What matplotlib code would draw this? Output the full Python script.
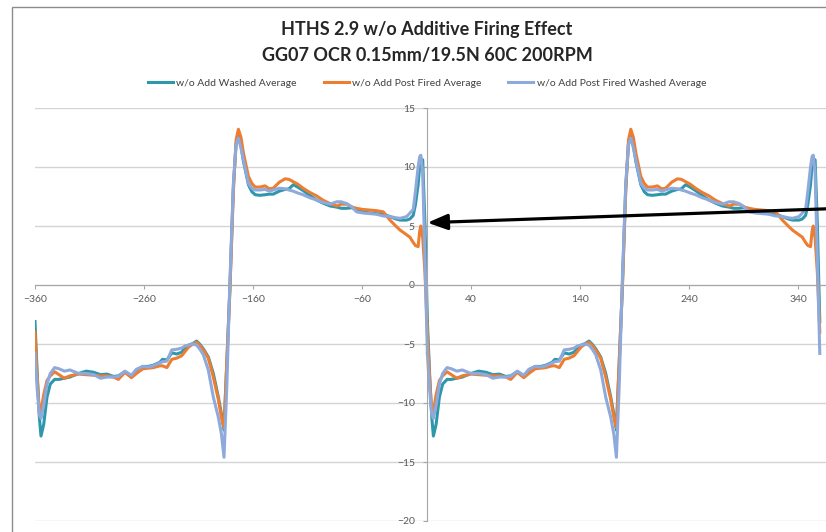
import matplotlib
matplotlib.use("Agg")
import matplotlib.pyplot as plt
import numpy as np
from matplotlib.patches import Rectangle

# one 360 deg crank cycle, drawn twice (-360..0 and 0..360)
angle = [0, 2, 4, 5.5, 8, 11, 14, 18, 22, 27, 32, 40, 47, 54, 60, 66, 72, 76.5,
         82.5, 88.5, 93, 99, 104, 108.5, 114.5, 117, 121, 125.5, 130, 134.5, 138,
         141, 145, 148.3, 151, 154.4, 159, 163.6, 168.2, 171, 173.4, 176, 178.8,
         182, 184.5, 186.6, 189, 191.2, 195.8, 199, 202, 206.4, 211, 215, 218.6,
         224, 229.4, 233, 237, 241, 246, 252, 258.4, 264, 270.6, 276.8, 281, 286,
         291, 295, 301, 307.3, 313, 319.5, 325.7, 331, 335, 341, 344, 347, 349,
         351.5, 353, 354, 355.7, 357.8, 360]

washed = [-3.1, -7.5, -11.2, -12.8, -11.8, -9.5, -8.4, -8.0, -8.0, -7.9, -7.8,
          -7.5, -7.3, -7.4, -7.6, -7.55, -7.75, -7.7, -7.35, -7.8, -7.2, -6.9,
          -6.9, -6.8, -6.55, -6.3, -6.35, -5.75, -5.85, -5.7, -5.3, -5.1, -4.95,
          -4.75, -5.0, -5.4, -6.1, -7.5, -9.5, -10.9, -12.3, -6.5, -0.3, 8.3,
          12.0, 12.7, 11.8, 10.5, 8.5, 7.9, 7.65, 7.6, 7.65, 7.7, 7.7, 7.95, 8.1,
          8.15, 8.5, 8.3, 8.0, 7.6, 7.2, 6.95, 6.7, 6.6, 6.5, 6.5, 6.55, 6.35,
          6.2, 6.1, 6.05, 6.0, 5.8, 5.6, 5.5, 5.5, 5.6, 5.9, 6.8, 8.5, 10.2,
          10.7, 10.6, 5.0, -3.1]

post_fired = [-4.0, -7.8, -10.8, -10.7, -9.3, -8.1, -7.7, -7.35, -7.6, -7.9,
              -7.7, -7.55, -7.6, -7.65, -7.7, -7.7, -7.8, -8.0, -7.4, -7.85,
              -7.5, -7.1, -7.05, -7.0, -6.85, -6.85, -7.0, -6.3, -6.2, -6.0,
              -5.6, -5.25, -5.0, -4.85, -5.1, -5.5, -6.2, -7.8, -9.7, -11.2,
              -12.1, -6.5, -0.5, 8.0, 12.3, 13.2, 12.5, 11.2, 9.2, 8.6, 8.3, 8.3,
              8.4, 8.15, 8.2, 8.7, 9.0, 8.95, 8.75, 8.55, 8.2, 7.85, 7.55, 7.2,
              6.9, 6.7, 6.85, 6.85, 6.6, 6.5, 6.4, 6.35, 6.3, 6.2, 5.5, 5.0,
              4.65, 4.25, 4.05, 3.6, 3.35, 3.25, 4.6, 5.0, 4.0, 1.0, -4.0]

post_fired_washed = [-5.8, -8.8, -11.0, -11.3, -10.2, -8.4, -7.5, -7.0, -7.1,
                     -7.3, -7.2, -7.5, -7.5, -7.6, -7.9, -7.8, -7.8, -7.75,
                     -7.3, -7.65, -7.15, -6.9, -6.95, -6.85, -6.6, -6.5, -6.45,
                     -5.5, -5.45, -5.35, -5.15, -5.1, -5.0, -5.1, -5.4, -5.9,
                     -7.2, -9.5, -11.2, -12.6, -14.6, -8.5, 0.3, 8.6, 11.9,
                     12.45, 11.6, 10.6, 8.6, 8.2, 8.05, 8.05, 8.1, 7.95, 8.05,
                     8.2, 8.15, 8.05, 7.95, 7.8, 7.65, 7.4, 7.2, 7.0, 6.85, 7.05,
                     7.05, 6.9, 6.6, 6.2, 6.1, 6.05, 6.0, 5.85, 5.8, 5.7, 5.65,
                     5.8, 6.1, 6.4, 7.9, 10.0, 10.9, 11.0, 9.5, 2.0, -5.8]

series_names = ["w/o Add Washed Average", "w/o Add Post Fired Average",
                "w/o Add Post Fired Washed Average"]
series_colors = ["#2F97AC", "#ED7D31", "#8EA9DB"]

x_ticks = np.arange(-360, 341, 100)
y_ticks = np.arange(-20, 16, 5)

plt.rcParams['font.family'] = ['Lato', 'DejaVu Sans']

fig = plt.figure(figsize=(8.26, 5.32), dpi=100)
ax = fig.add_axes([35 / 826, 11 / 532, 791 / 826, 413 / 532])

theta = np.array(angle)
for vals, name, col in zip([washed, post_fired, post_fired_washed],
                           series_names, series_colors):
    vals = np.array(vals)
    line, = ax.plot(theta - 360, vals, color=col, lw=2.2, label=name)
    ax.plot(theta, vals, color=col, lw=2.2)

ax.set_xlim(-360, 365.7)
ax.set_ylim(-20, 15)
ax.set_xticks(x_ticks)
ax.set_yticks(y_ticks)
ax.yaxis.grid(True, color="#D4D4D4", lw=1)
ax.set_axisbelow(True)

for side in ["top", "right"]:
    ax.spines[side].set_visible(False)
ax.spines["left"].set_position(("data", 0))
ax.spines["bottom"].set_position(("data", 0))
ax.spines["left"].set_color("#A6A6A6")
ax.spines["bottom"].set_color("#A6A6A6")
ax.tick_params(axis="both", colors="#A6A6A6", labelcolor="#595959",
               labelsize=7.5, length=3, width=0.8)
ax.tick_params(axis="y", pad=6)
ax.tick_params(axis="x", pad=4)

# arrow pointing at the y axis around 5
ax.annotate("", xy=(0, 5.28), xytext=(380, 6.5),
            arrowprops=dict(arrowstyle="-|>,head_length=1.2,head_width=0.47",
                            mutation_scale=10, lw=2.3, color="black",
                            shrinkA=0, shrinkB=0),
            annotation_clip=False)

fig.text(0.517, 1 - 30 / 532, "HTHS 2.9 w/o Additive Firing Effect",
         ha="center", va="center", fontsize=13, fontweight="bold",
         color="#262626")
fig.text(0.517, 1 - 55 / 532, "GG07 OCR 0.15mm/19.5N 60C 200RPM",
         ha="center", va="center", fontsize=13, fontweight="bold",
         color="#262626")

handles, labels = ax.get_legend_handles_labels()
fig.legend(handles, labels, loc="center", bbox_to_anchor=(0.517, 1 - 83 / 532),
           ncol=3, frameon=False, fontsize=7.5, handlelength=2.4,
           handletextpad=0.3, columnspacing=2.6, labelcolor="#404040")

# chart area border
fig.add_artist(Rectangle((11.5 / 826, -0.2), 2, 1.2 - 6.5 / 532,
                         transform=fig.transFigure, fill=False,
                         edgecolor="#8C8C8C", lw=1))

fig.savefig("out.png", dpi=100)
